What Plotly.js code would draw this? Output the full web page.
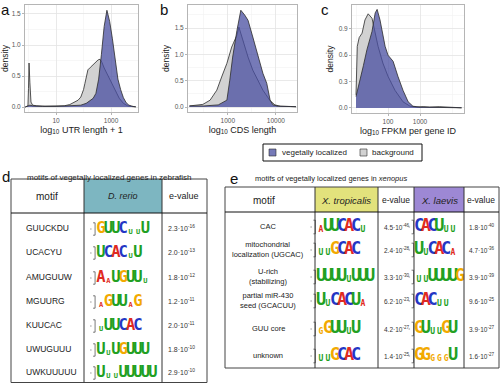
<!DOCTYPE html>
<html><head><meta charset="utf-8">
<script src="https://cdn.plot.ly/plotly-3.0.1.min.js"></script>
<style>html,body{margin:0;padding:0;background:#fff}#chart{width:500px;height:383px}</style>
</head><body><div id="chart"></div>
<script>
// ---------- Panel a: log10 UTR length + 1 ----------
const utrBgLogX  = [-0.12,-0.02,0.0,0.02,0.05,0.09,0.15,0.3,0.6,1.0,1.3,1.5,1.65,1.8,1.9,2.0,2.05,2.12,2.16,2.25,2.35,2.45,2.53,2.6,2.67,2.75,2.85,2.96,3.1,3.2,3.3,3.45,3.6,3.75,3.9];
const utrBgDens  = [0,0.02,0.3,0.71,0.4,0.08,0.03,0.02,0.015,0.015,0.02,0.04,0.07,0.11,0.16,0.28,0.38,0.52,0.6,0.64,0.68,0.72,0.76,0.77,0.72,0.63,0.54,0.44,0.3,0.22,0.14,0.06,0.02,0.008,0.003];
const utrVegLogX = [-0.12,0.0,0.05,0.15,0.5,1.0,1.5,1.9,2.1,2.25,2.35,2.45,2.55,2.65,2.75,2.85,2.95,3.05,3.15,3.25,3.35,3.45,3.55,3.65,3.8,3.9];
const utrVegDens = [0,0.02,0.03,0.02,0.01,0.01,0.02,0.03,0.06,0.1,0.14,0.22,0.45,0.85,1.3,1.56,1.38,1.1,0.75,0.45,0.28,0.15,0.07,0.03,0.01,0.003];
// ---------- Panel b: log10 CDS length ----------
const cdsBgLogX  = [2.2,2.31,2.48,2.63,2.77,2.87,2.98,3.08,3.19,3.23,3.31,3.42,3.52,3.63,3.73,3.88,3.98,4.1,4.3,4.42];
const cdsBgDens  = [0.02,0.03,0.05,0.13,0.32,0.57,0.83,1.14,1.37,1.52,1.27,0.95,0.7,0.51,0.32,0.12,0.04,0.015,0.01,0.005];
const cdsVegLogX = [2.2,2.5,2.8,2.98,3.04,3.1,3.19,3.27,3.35,3.42,3.52,3.63,3.73,3.81,3.88,3.94,4.05,4.3,4.42];
const cdsVegDens = [0.02,0.02,0.04,0.13,0.51,0.95,1.46,1.84,1.75,1.65,1.33,0.95,0.64,0.45,0.13,0.04,0.015,0.01,0.005];
// ---------- Panel c: log10 FPKM per gene ID ----------
const fpkmBgLogX  = [1.0,1.04,1.1,1.19,1.28,1.38,1.5,1.6,1.69,1.84,2.0,2.22,2.47,2.69,2.9,3.1,3.3,3.6,3.9,4.2,4.3];
const fpkmBgDens  = [0.15,0.7,0.8,0.85,1.0,1.07,1.02,0.85,0.7,0.51,0.36,0.2,0.07,0.02,0.01,0.015,0.01,0.015,0.01,0.005,0.002];
const fpkmVegLogX = [1.0,1.12,1.23,1.34,1.5,1.6,1.66,1.75,1.91,2.0,2.16,2.31,2.47,2.63,2.78,3.0,3.5,4.0,4.3];
const fpkmVegDens = [0.13,0.3,0.48,0.66,0.87,1.08,1.12,1.0,0.7,0.6,0.53,0.36,0.2,0.07,0.02,0.01,0.008,0.005,0.002];

const seriesNames = ["vegetally localized","background"];

// ---------- Table d: zebrafish motifs ----------
const dMotifs   = ["GUUCKDU","UCACYU","AMUGUUW","MGUURG","KUUCAC","UWUGUUU","UWKUUUUU"];
const dLogos    = ["GUUCuuU","UCACuU","AaUGUUu","aGUUaG","uUUCAC","UuUGUUU","UuuUUUUU"];
const dEvalMant = ["2.3","2.0","1.8","1.2","2.0","1.8","2.9"];
const dEvalExp  = ["-16","-13","-12","-11","-11","-10","-10"];
// ---------- Table e: xenopus motifs ----------
const eMotifs    = ["CAC","mitochondrial<br>localization (UGCAC)","U-rich<br>(stabilizing)","partial miR-430<br>seed (GCACUU)","GUU core","unknown"];
const eTropLogos = ["aUUCACu","uuGCAC","UUUUuUUU","UuCACUa","gGUUuU","uuGCAC"];
const eTropMant  = ["4.5","2.4","3.3","6.2","4.2","1.4"];
const eTropExp   = ["-46","-28","-30","-23","-27","-25"];
const eLaevLogos = ["CACUuu","UuCACa","uuUUUUG","CACuu","GUuuGU","GGgggU"];
const eLaevMant  = ["1.8","4.7","3.9","9.6","3.9","1.6"];
const eLaevExp   = ["-40","-36","-39","-25","-27","-27"];

// ---------- styles ----------
const FONT = "Liberation Sans, Arial, sans-serif";
const LOGO_FONT = "DejaVu Sans Mono, monospace";
const BLUE_FILL = "rgba(72,78,160,0.75)";
const GRAY_FILL = "#d2d2d2";
const OUT = "#2b2b2b";
const NUC = {U:"#22a022", C:"#2436c4", A:"#e02a20", G:"#f2a900"};

const pow10 = a => a.map(v => Math.pow(10, v));
function dens(logx, y, xa, ya, fill, name){
  return {type:"scatter", mode:"lines", x:pow10(logx), y:y, xaxis:xa, yaxis:ya,
    fill:"tozeroy", fillcolor:fill, line:{color:OUT, width:0.8}, name:name,
    showlegend:false, hoverinfo:"skip"};
}
const traces = [
  dens(utrBgLogX, utrBgDens, "x", "y", GRAY_FILL, seriesNames[1]),
  dens(utrVegLogX, utrVegDens, "x", "y", BLUE_FILL, seriesNames[0]),
  dens(cdsBgLogX, cdsBgDens, "x2", "y2", GRAY_FILL, seriesNames[1]),
  dens(cdsVegLogX, cdsVegDens, "x2", "y2", BLUE_FILL, seriesNames[0]),
  dens(fpkmBgLogX, fpkmBgDens, "x3", "y3", GRAY_FILL, seriesNames[1]),
  dens(fpkmVegLogX, fpkmVegDens, "x3", "y3", BLUE_FILL, seriesNames[0])
];

// ---------- layout geometry (pixels on overlay axis x4/y4) ----------
const W = 500, H = 383;
const dRowY = [228,252,277,301,325,349,372];
const eRowY = [226,249,276,300,328,355];
const shapes = [], annotations = [];

function logoTrace(logos, x0, step, rowY, big){
  const xs=[], ys=[], ts=[], cs=[], ss=[];
  logos.forEach((s, r) => {
    for (let i = 0; i < s.length; i++){
      const ch = s[i], up = ch === ch.toUpperCase();
      const sz = up ? big : Math.round(big*0.45);
      xs.push(x0 + i*step);
      ys.push(rowY[r] + 1 + (up ? 0 : 0.36*(big - sz)));
      ts.push(ch.toUpperCase()); cs.push(NUC[ch.toUpperCase()]); ss.push(sz);
    }
    const t = rowY[r] + 1 - 0.4*big, b = rowY[r] + 1 + 0.4*big, bx = x0 - step*0.8;
    shapes.push({type:"path", xref:"x4", yref:"y4",
      path:`M ${bx-2} ${t} L ${bx} ${t} L ${bx} ${b} L ${bx-2} ${b}`, line:{color:"#222", width:0.6}});
    shapes.push({type:"line", xref:"x4", yref:"y4", x0:bx-5, x1:bx-3.5, y0:rowY[r]+1, y1:rowY[r]+1, line:{color:"#555", width:0.6}});
  });
  return {type:"scatter", mode:"text", x:xs, y:ys, text:ts, xaxis:"x4", yaxis:"y4",
    textposition:"middle center", cliponaxis:false, hoverinfo:"skip", showlegend:false,
    textfont:{family:LOGO_FONT, size:ss, color:cs, weight:"bold"}};
}
traces.push(logoTrace(dLogos, 101, 7.4, dRowY, 15.5));
traces.push(logoTrace(eTropLogos, 321, 7.0, eRowY, 17));
traces.push(logoTrace(eLaevLogos, 419, 6.8, eRowY, 17));

function ann(x, y, text, size, opts){
  annotations.push(Object.assign({xref:"x4", yref:"y4", x:x, y:y, text:text, showarrow:false,
    font:{family:FONT, size:size, color:"#222"}, xanchor:"center", yanchor:"middle"}, opts||{}));
}
function rect(x0,y0,x1,y1,fill,line,w){
  shapes.push({type:"rect", xref:"x4", yref:"y4", x0, y0, x1, y1, fillcolor:fill||"rgba(0,0,0,0)",
    line:{color:line||"rgba(0,0,0,0)", width:w||0}, layer:"below"});
}
function vline(x,y0,y1,c,w){ shapes.push({type:"line", xref:"x4", yref:"y4", x0:x, x1:x, y0, y1, line:{color:c||"#333", width:w||1}}); }
function hline(y,x0,x1,c,w){ shapes.push({type:"line", xref:"x4", yref:"y4", x0, x1, y0:y, y1:y, line:{color:c||"#333", width:w||1}}); }

// panel letters
[["a",5,9],["b",164,9],["c",325,9],["d",6,176],["e",234,178]].forEach(p =>
  ann(p[1], p[2], p[0], 15, {font:{family:FONT, size:15, color:"#111"}}));

// legend (drawn as keys)
rect(263,144,422,161,"rgba(0,0,0,0)","#111",1);
rect(269,149,276,156,BLUE_FILL,OUT,0.6);
rect(360,149,367,156,GRAY_FILL,OUT,0.6);
ann(280,152.5,seriesNames[0],8,{xanchor:"left"});
ann(370,152.5,seriesNames[1],8,{xanchor:"left"});

// table d
ann(25,177,"motifs of vegetally localized genes in zebrafish",8,{xanchor:"left"});
rect(84,179,162,213,"#7db6c1");
rect(11,179,207,382.5,null,"#444",1);
vline(84,179,382.5); vline(162,179,382.5); hline(213,11,207,"#111",1);
ann(47,196,"motif",10);
ann(123,196,"<i>D. rerio</i>",9);
ann(184,196,"e-value",9);
dMotifs.forEach((m,i) => {
  ann(24, dRowY[i], m, 8.5, {xanchor:"left"});
  ann(166, dRowY[i], dEvalMant[i] + "·10<sup>" + dEvalExp[i] + "</sup>", 7, {xanchor:"left", font:{family:FONT,size:7,color:"#333"}});
});

// table e
ann(253,178,"motifs of vegetally localized genes in <i>xenopus</i>",7.5,{xanchor:"left"});
rect(315,187,378,212,"#e2e27c");
rect(414,187,464,212,"#9d88d4");
rect(225,187,499,368,null,"#444",1);
[315,378,414,464].forEach(x => vline(x,187,368));
hline(212,225,499,"#111",1);
ann(264,200,"motif",10);
ann(346,200,"<i>X. tropicalis</i>",9.5);
ann(396,200,"e-value",8.5);
ann(439,200,"<i>X. laevis</i>",9.5);
ann(481,200,"e-value",8.5);
eMotifs.forEach((m,i) => {
  ann(268, eRowY[i], m, 7.5);
  ann(396, eRowY[i]+1, eTropMant[i] + "·10<sup>" + eTropExp[i] + "</sup>", 6.5, {font:{family:FONT,size:6.5,color:"#333"}});
  ann(481, eRowY[i]+1, eLaevMant[i] + "·10<sup>" + eLaevExp[i] + "</sup>", 6.5, {font:{family:FONT,size:6.5,color:"#333"}});
});

// ---------- axes ----------
const tickFont = {family:FONT, size:6.5, color:"#555"};
function xax(domain, range, tv, title, minorVals){
  return {domain, type:"log", range, tickvals:tv, ticktext:tv.map(String), tickfont:tickFont,
    showgrid:true, gridcolor:"#e4e4e4", gridwidth:0.8, zeroline:false,
    showline:true, mirror:true, linecolor:"#b5b5b5", linewidth:1, ticks:"outside", ticklen:2, tickcolor:"#b5b5b5",
    minor:{tickvals:minorVals, showgrid:true, gridcolor:"#f2f2f2", gridwidth:0.6, ticks:""},
    title:{text:title, font:{family:FONT, size:9, color:"#222"}, standoff:3}, automargin:false, fixedrange:true};
}
function yax(domain, range, tv, minorVals, anchor){
  return {domain, range, tickvals:tv, ticktext:tv.map(v=>v.toFixed(1)), tickfont:tickFont, anchor,
    showgrid:true, gridcolor:"#e4e4e4", gridwidth:0.8, zeroline:false,
    showline:true, mirror:true, linecolor:"#b5b5b5", linewidth:1, ticks:"outside", ticklen:2, tickcolor:"#b5b5b5",
    minor:{tickvals:minorVals, showgrid:true, gridcolor:"#f2f2f2", gridwidth:0.6, ticks:""},
    title:{text:"density", font:{family:FONT, size:8.5, color:"#222"}, standoff:3}, automargin:false, fixedrange:true};
}
const yTop = [1-112/H, 1-5/H];
const layout = {
  width:W, height:H, margin:{l:0,r:0,t:0,b:0}, paper_bgcolor:"#fff", plot_bgcolor:"rgba(0,0,0,0)",
  showlegend:false, font:{family:FONT},
  xaxis: Object.assign(xax([25/W,138/W], [-0.127,3.98], [10,1000], "log<sub>10</sub> UTR length + 1", [1,100,10000]), {anchor:"y"}),
  yaxis: yax(yTop, [-0.08,1.645], [0,0.5,1.0,1.5], [0.25,0.75,1.25], "x"),
  xaxis2: Object.assign(xax([188/W,297/W], [2.17,4.44], [1000,10000], "log<sub>10</sub> CDS length", [316.2,3162,31623]), {anchor:"y2"}),
  yaxis2: yax(yTop, [-0.095,1.94], [0,0.5,1.0,1.5], [0.25,0.75,1.25,1.75], "x2"),
  xaxis3: Object.assign(xax([352/W,464/W], [0.875,4.375], [100,1000], "log<sub>10</sub> FPKM per gene ID", [10,10000]), {anchor:"y3"}),
  yaxis3: yax([1-113/H, 1-5/H], [-0.057,1.17], [0,0.3,0.6,0.9], [0.15,0.45,0.75,1.05], "x3"),
  xaxis4: {domain:[0,1], range:[0,W], visible:false, anchor:"y4", fixedrange:true},
  yaxis4: {domain:[0,1], range:[H,0], visible:false, anchor:"x4", fixedrange:true},
  shapes, annotations
};
Plotly.newPlot("chart", traces, layout, {staticPlot:true, displayModeBar:false});
</script></body></html>
